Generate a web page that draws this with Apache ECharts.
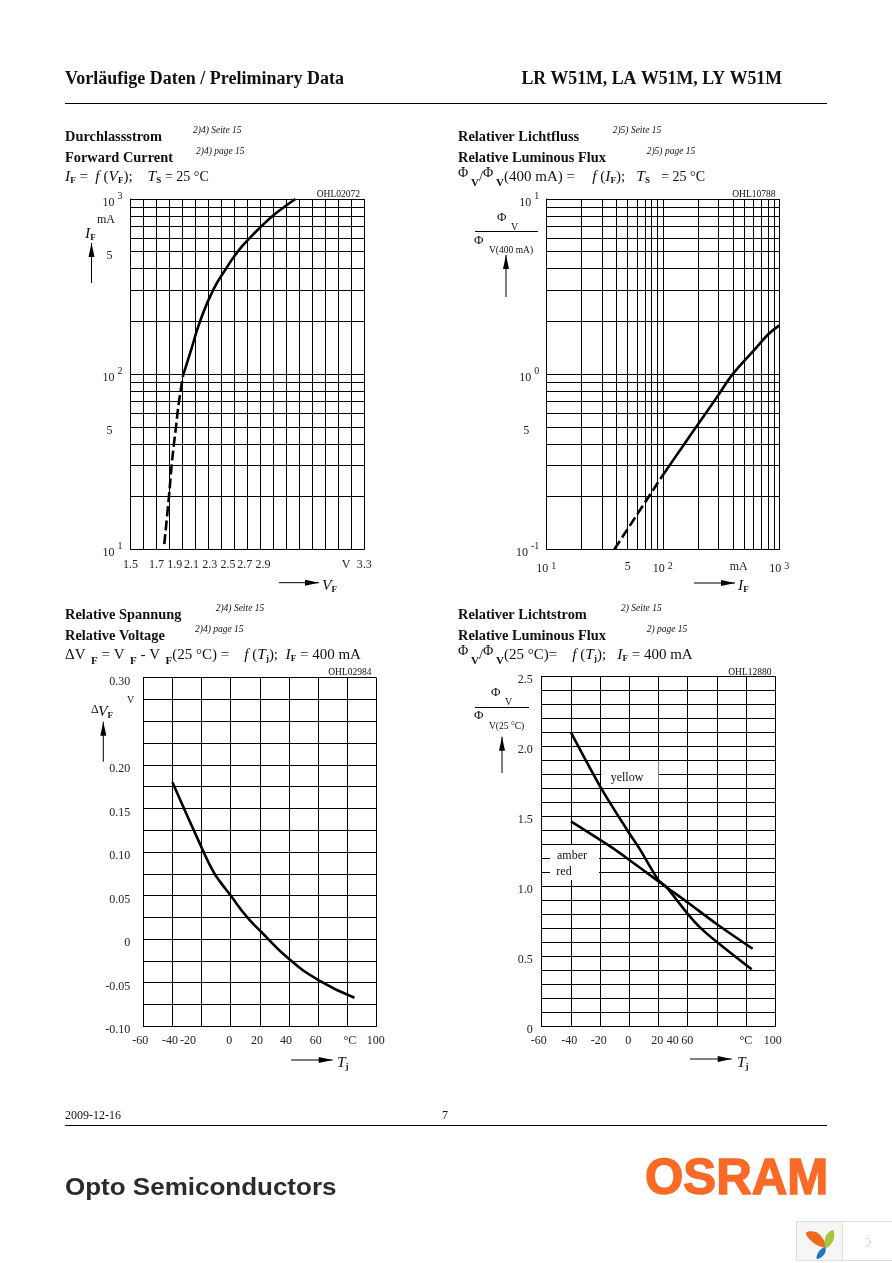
<!DOCTYPE html>
<html><head><meta charset="utf-8">
<style>html,body{margin:0;padding:0;background:#fff}#c{width:892px;height:1263px}</style>
<script src="https://cdn.jsdelivr.net/npm/echarts@6/dist/echarts.min.js"></script>
</head><body><div id="c"></div>
<script>
// ---- data ----
const ifVfDashed = [[1.76,10.7],[1.796,20],[1.817,30.3],[1.835,40.3],[1.85,49.8],[1.873,69.7],[1.906,99]];
const ifVfSolid = [[1.906,99],[1.971,141],[2.035,200],[2.137,303],[2.24,405],[2.325,500],[2.419,600],[2.509,700],[2.594,800],[2.683,900],[2.77,1000]];
const fluxIfDashed = [[38.4,0.1],[100,0.265]];
const fluxIfSolid = [[100,0.265],[147,0.384],[198,0.511],[299.5,0.759],[398,1],[607,1.37],[805,1.69],[1000,1.9]];
const dvTj = [[-40,0.18],[-19.4,0.103],[-11.9,0.0774],[-7.3,0.066],[0,0.05],[11,0.0258],[20.4,0.0094],[40.3,-0.0231],[60.2,-0.0469],[85,-0.0672]];
const fluxTjYellow = [[-40,2.1],[-19.2,1.7],[-0.7,1.39],[7.3,1.264],[19.9,1.045],[25.2,0.997],[39.7,0.807],[48.4,0.707],[59.8,0.604],[83.8,0.407]];
const fluxTjAmberRed = [[-40,1.464],[-11,1.271],[0,1.188],[14.2,1.08],[25,0.997],[39.3,0.89],[59.8,0.731],[84.5,0.554]];
// y grid lines on the log axes, x grid lines on the log axis
const logGridForward = [10,20,30,40,50,60,70,80,90,100,200,300,400,500,600,700,800,900,1000];
const logGridFluxY = [0.1,0.2,0.3,0.4,0.5,0.6,0.7,0.8,0.9,1,2,3,4,5,6,7,8,9,10];
const logGridFluxX = [10,20,30,40,50,60,70,80,90,100,200,300,400,500,600,700,800,900,1000];
// tick labels: axis value where each label sits (as printed, not always on its grid line) and its text
const vfTickAt = [1.5,1.7,1.84,1.97,2.11,2.25,2.38,2.52,3.16,3.3];
const vfTickText = ['1.5','1.7','1.9','2.1','2.3','2.5','2.7','2.9','V','3.3'];
const ifTicks = [10,50,100,500,1000];
const ifTickText = ['10^1','5','10^2','5','10^3'];
const fluxYTicks = [0.1,0.5,1,10];
const fluxYText = ['10^-1','5','10^0','10^1'];
const fluxXTicks = [10,50,100,448,1000];
const fluxXText = ['10^1','5','10^2','mA','10^3'];
const dvTickAt = [-0.1,-0.05,0,0.05,0.1,0.15,0.2,0.3];
const dvTickText = ['-0.10','-0.05','0','0.05','0.10','0.15','0.20','0.30'];
const tjTickAtL = [-60,-41.7,-29.3,-0.9,18.1,38,58.4,81.8,99.7];
const tjTickTextL = ['-60','-40','-20','0','20','40','60','°C','100'];
const tjTickAtR = [-60,-41.1,-21,-0.7,19.2,29.7,39.7,79.9,98.2];
const tjTickTextR = ['-60','-40','-20','0','20','40','60','°C','100'];
const fluxTjTicks = [0,0.5,1,1.5,2,2.5];
const fluxTjText = ['0','0.5','1.0','1.5','2.0','2.5'];

const SERIF = '"Liberation Serif","Times New Roman",serif';
const GRID = [
  {left:130.5,top:199,width:233.8,height:350.3},
  {left:546.3,top:199,width:233,height:350.3},
  {left:143.3,top:677.7,width:233,height:348.6},
  {left:541.7,top:676.3,width:233.6,height:350}
];
const lineStyle = {color:'#000',width:1};
const sup = {fontFamily:SERIF,fontSize:10,color:'#222',padding:[0,0,6,3]};
const num = {fontFamily:SERIF,fontSize:12,color:'#222'};
function powLabel(t){ // "10^3" -> rich text with a superscript; plain label otherwise
  const p=t.split('^');
  if(p.length>1) return '{n|'+p[0]+'}{s|'+p[1]+'}';
  return (t==='-60'?'{l|':'{k|')+t+'}';
}
function lookup(values,texts){return v=>{let b=0,d=1e9;values.forEach((x,i)=>{const e=Math.abs(x-v);if(e<d){d=e;b=i;}});return texts[b];};}

function gridAxis(type,idx,min,max,extra){
  return Object.assign({type:type,gridIndex:idx,min:min,max:max,
    axisLine:{show:true,onZero:false,lineStyle},axisTick:{show:false},axisLabel:{show:false},
    splitLine:{show:true,lineStyle}},extra||{});
}
function labelAxis(type,idx,min,max,values,texts,label,extra){
  const find=lookup(values,texts);
  return Object.assign({type:type,gridIndex:idx,min:min,max:max,
    axisLine:{show:false,onZero:false},axisTick:{show:false},splitLine:{show:false},
    axisLabel:Object.assign({show:true,customValues:values,hideOverlap:false,showMinLabel:true,showMaxLabel:true,
      formatter:v=>powLabel(find(v))},label)},extra||{});
}
const xRich = {n:num,k:num,s:sup,l:Object.assign({},num,{padding:[0,6,0,0]})};
const yRich = {k:Object.assign({},num,{padding:[8,0,0,0]}),s:sup};
const logYRich = {n:Object.assign({},num,{padding:[8,0,0,0]}),k:Object.assign({},num,{padding:[8,10,0,0]}),s:sup};
const B={position:'bottom'}, L={position:'left'};
const xAxis=[
  gridAxis('value',0,1.5,3.3,{interval:0.1,position:'bottom'}),
  gridAxis('log',1,10,1000,{logBase:10,position:'bottom',axisTick:{show:false,customValues:logGridFluxX}}),
  gridAxis('value',2,-60,100,{interval:20,position:'bottom'}),
  gridAxis('value',3,-60,100,{interval:20,position:'bottom'}),
  labelAxis('value',0,1.5,3.3,vfTickAt,vfTickText,{margin:10,rich:xRich},B),
  labelAxis('log',1,10,1000,fluxXTicks,fluxXText,{margin:12,rich:xRich},{logBase:10,position:'bottom'}),
  labelAxis('value',2,-60,100,tjTickAtL,tjTickTextL,{margin:9,rich:xRich},B),
  labelAxis('value',3,-60,100,tjTickAtR,tjTickTextR,{margin:9,rich:xRich},B)
];
const yAxis=[
  gridAxis('log',0,10,1000,{logBase:10,position:'left',axisTick:{show:false,customValues:logGridForward}}),
  gridAxis('log',1,0.1,10,{logBase:10,position:'left',axisTick:{show:false,customValues:logGridFluxY}}),
  gridAxis('value',2,-0.1,0.3,{interval:0.025,position:'left'}),
  gridAxis('value',3,0,2.5,{interval:0.1,position:'left'}),
  labelAxis('log',0,10,1000,ifTicks,ifTickText,{margin:8,rich:logYRich},{logBase:10,position:'left'}),
  labelAxis('log',1,0.1,10,fluxYTicks,fluxYText,{margin:7,rich:logYRich},{logBase:10,position:'left'}),
  labelAxis('value',2,-0.1,0.3,dvTickAt,dvTickText,{margin:13,rich:yRich},L),
  labelAxis('value',3,0,2.5,fluxTjTicks,fluxTjText,{margin:9,rich:yRich},L)
];
function curve(name,idx,data,dashed,smooth){
  return {name:name,type:'line',xAxisIndex:idx,yAxisIndex:idx,data:data,showSymbol:false,symbol:'none',z:5,
    smooth:smooth,clip:false,lineStyle:{color:'#000',width:2.6,type:dashed?[10,4]:'solid',cap:'butt'}};
}
const series=[
  curve('IF dashed',0,ifVfDashed,true,0.4),
  curve('IF',0,ifVfSolid,false,0.5),
  curve('Flux dashed',1,fluxIfDashed,true,0),
  curve('Flux',1,fluxIfSolid,false,0.4),
  curve('dV',2,dvTj,false,0.5),
  curve('yellow',3,fluxTjYellow,false,0.3),
  curve('amber red',3,fluxTjAmberRed,false,0.3)
];

// ---- page text and annotations ----
const g=[];
function txt(x,y,text,o){o=o||{};
  g.push({type:'text',z:8,x:x,y:y,style:Object.assign({text:text,fontFamily:SERIF,fontSize:12,fill:'#111',
    textAlign:'left',textVerticalAlign:'middle'},o)});
}
function line(x1,y1,x2,y2,w,c){g.push({type:'line',z:8,shape:{x1,y1,x2,y2},style:{stroke:c||'#000',lineWidth:w||1}});}
function arrow(x1,y1,x2,y2){ // shaft with a solid head at (x2,y2)
  line(x1,y1,x2,y2,1);
  const dx=x2-x1,dy=y2-y1,L=Math.hypot(dx,dy),ux=dx/L,uy=dy/L,h=14,w=3;
  g.push({type:'polygon',z:8,shape:{points:[[x2,y2],[x2-ux*h-uy*w,y2-uy*h+ux*w],[x2-ux*h+uy*w,y2-uy*h-ux*w]]},style:{fill:'#000'}});
}
const R={
  i:{fontFamily:SERIF,fontStyle:'italic',fontSize:15.5,fill:'#111'},
  t:{fontFamily:SERIF,fontSize:15,fill:'#111'},
  e:{fontFamily:SERIF,fontSize:14,fill:'#111'},
  b:{fontFamily:SERIF,fontSize:9,fontWeight:'bold',fill:'#111',padding:[7,0,0,0]},
  u:{fontFamily:SERIF,fontSize:11,fontWeight:'bold',fill:'#111',padding:[12,0,0,0]},
  p:{fontFamily:SERIF,fontSize:14,fill:'#111',padding:[0,0,7,0]},
  sp:{fontSize:14.5,width:6}
};
function formula(x,y,text){txt(x,y,text,{rich:R});}

// header / footer
txt(65,79,'Vorläufige Daten / Preliminary Data',{fontWeight:'bold',fontSize:18});
txt(782,79,'LR W51M, LA W51M, LY W51M',{fontWeight:'bold',fontSize:17.8,textAlign:'right'});
line(65,103.5,827,103.5,1);
txt(65,1116,'2009-12-16',{fontSize:12});
txt(442,1116,'7',{fontSize:12});
line(65,1125.5,827,1125.5,1);
g.push({type:'text',z:8,x:65,y:1189,scaleX:1.13,style:{text:'Opto Semiconductors',fontFamily:'"Liberation Sans",Arial,sans-serif',fontWeight:'bold',fontSize:23,fill:'#2b2a2e',textVerticalAlign:'middle'}});
g.push({type:'text',z:8,x:645,y:1180,scaleX:0.985,style:{text:'OSRAM',fontFamily:'"Liberation Sans",Arial,sans-serif',fontWeight:'bold',fontSize:50,fill:'#f96a26',stroke:'#f96a26',lineWidth:1.4,textVerticalAlign:'middle'}});

// panel titles
function titles(a,b,x,y){
  txt(x,y+1,a,{fontWeight:'bold',fontSize:14.4});
  txt(x,y+22,b,{fontWeight:'bold',fontSize:14.4});
}
function small(x,y,text){txt(x,y,text,{fontSize:9.5,fontStyle:'italic'});}
function code(xr,y,text){txt(xr,y,text,{fontSize:9.5,textAlign:'right'});}

titles('Durchlassstrom','Forward Current',65,136);
small(193,130,'2)4) Seite 15'); small(196,151,'2)4) page 15');
formula(65,177,'{i|I}{b|F}{t| =  }{i|f}{t| (}{i|V}{b|F}{t|);    }{i|T}{b|S}{t| }{e|= 25 °C}');
code(360,194,'OHL02072');
txt(106,220,'mA',{fontSize:12,textAlign:'center'});
formula(85,234,'{i|I}{b|F}');
arrow(91.5,283,91.5,243);
arrow(279,582.7,319,582.7);
formula(322,586,'{i|V}{b|F}');

titles('Relativer Lichtfluss','Relative Luminous Flux',458,136);
small(612.7,130,'2)5) Seite 15'); small(646.7,151,'2)5) page 15');
formula(458,177,'{p|Φ}{u| V}{t|/}{p|Φ}{u| V}{t|(400 mA) =   }{sp|}{i|f}{t| (}{i|I}{b|F}{t|);   }{i|T}{b|S}{t|   }{e|= 25 °C}');
code(775.5,194,'OHL10788');
txt(497,218,'Φ',{fontSize:13}); txt(511,227,'V',{fontSize:10});
line(475,231.5,538,231.5,1);
txt(474,241,'Φ',{fontSize:13}); txt(489,250,'V(400 mA)',{fontSize:9.5});
arrow(506,297,506,255);
arrow(694,583,735,583);
formula(738,586,'{i|I}{b|F}');

titles('Relative Spannung','Relative Voltage',65,614);
small(215.7,608,'2)4) Seite 15'); small(195,629,'2)4) page 15');
formula(65,655,'{t|ΔV}{u|  F}{t| = V}{u|  F}{t| - V}{u|  F}{t|(25 °C) =    }{i|f}{t| (}{i|T}{b|j}{t|);  }{i|I}{b|F}{t| = 400 mA}');
code(371.5,672,'OHL02984');
txt(127,700,'V',{fontSize:10});
txt(91,710,'Δ',{fontSize:12}); formula(98,712,'{i|V}{b|F}');
arrow(103.3,761.7,103.3,721.7);
arrow(291,1060,332.7,1060);
formula(337,1063,'{i|T}{b|j}');

titles('Relativer Lichtstrom','Relative Luminous Flux',458,614);
small(621,608,'2) Seite 15'); small(646.7,629,'2) page 15');
formula(458,655,'{p|Φ}{u| V}{t|/}{p|Φ}{u| V}{t|(25 °C)=    }{i|f}{t| (}{i|T}{b|j}{t|);   }{i|I}{b|F}{t| = 400 mA}');
code(771.5,672,'OHL12880');
txt(491,693,'Φ',{fontSize:13}); txt(505,702,'V',{fontSize:10});
line(475,707.5,529,707.5,1);
txt(474,716,'Φ',{fontSize:13}); txt(489,726,'V(25 °C)',{fontSize:9.5});
arrow(502,773,502,736.7);
arrow(690,1059,731.7,1059);
formula(737,1063,'{i|T}{b|j}');

// white label boxes that interrupt the grid
g.push({type:'rect',z:1,shape:{x:601.5,y:761,width:57,height:27},style:{fill:'#fff'}});
g.push({type:'rect',z:1,shape:{x:550,y:845,width:49,height:35},style:{fill:'#fff'}});
txt(627,778,'yellow',{fontSize:12,textAlign:'center'});
txt(572,856,'amber',{fontSize:12,textAlign:'center'});
txt(564,872,'red',{fontSize:12,textAlign:'center'});

// corner widget of the source page
g.push({type:'rect',z:8,shape:{x:796.5,y:1221.5,width:46,height:39},style:{fill:'#f6f6f6',stroke:'#dedede',lineWidth:1}});
g.push({type:'rect',z:8,shape:{x:842.5,y:1221.5,width:52,height:39},style:{fill:'#fff',stroke:'#dedede',lineWidth:1}});
g.push({type:'polygon',z:9,shape:{smooth:0.4,points:[[806,1233],[816,1232],[823,1239],[826,1247],[815,1244]]},style:{fill:'#ee6a1f'}});
g.push({type:'polygon',z:9,shape:{smooth:0.4,points:[[833,1230],[833.5,1240],[826,1248],[825.5,1237]]},style:{fill:'#a8c63c'}});
g.push({type:'polygon',z:9,shape:{smooth:0.4,points:[[825,1247],[824.5,1254],[817,1259],[818.5,1252]]},style:{fill:'#1f74c4'}});
g.push({type:'polyline',z:9,shape:{points:[[866,1237],[871,1242],[866,1247]]},style:{stroke:'#c8c8c8',lineWidth:1,fill:'none'}});

const chart=echarts.init(document.getElementById('c'),null,{renderer:'canvas',width:892,height:1263});
chart.setOption({animation:false,backgroundColor:'#fff',grid:GRID,xAxis,yAxis,series,graphic:{elements:g}});
</script></body></html>
